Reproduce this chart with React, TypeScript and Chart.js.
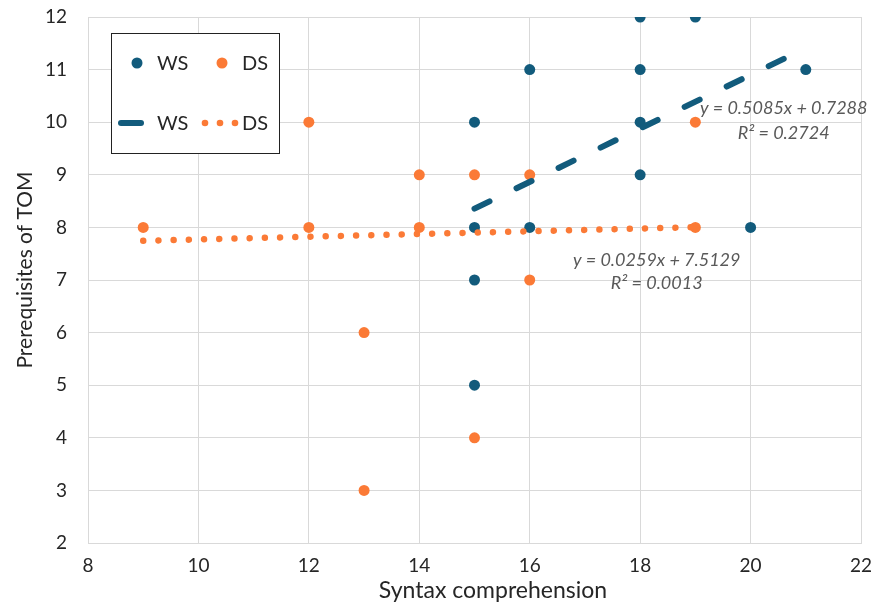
import React, { useEffect, useRef } from "react";
import { Chart, registerables } from "chart.js";

Chart.register(...registerables);

// ---- data ----
const seriesNames = ["WS", "DS"];
const wsX = [18, 19, 16, 18, 21, 15, 18, 18, 15, 16, 20, 15, 15];
const wsY = [12, 12, 11, 11, 11, 10, 10, 9, 8, 8, 8, 7, 5];
const dsX = [9, 12, 12, 13, 13, 14, 14, 15, 15, 16, 16, 19, 19];
const dsY = [8, 10, 8, 6, 3, 9, 8, 9, 4, 9, 7, 10, 8];
const wsTrendX = [15, 21];
const wsTrendY = [8.356, 11.407];
const dsTrendX = [9, 19];
const dsTrendY = [7.746, 8.005];
const wsEquation = ["y = 0.5085x + 0.7288", "R² = 0.2724"];
const dsEquation = ["y = 0.0259x + 7.5129", "R² = 0.0013"];
const xTitle = "Syntax comprehension";
const yTitle = "Prerequisites of TOM";
const xMin = 8, xMax = 22, xStep = 2;
const yMin = 2, yMax = 12, yStep = 1;

const TEAL = "#125b7c";
const ORANGE = "#fb7a36";
const GRID = "#d9d9d9";
const TEXT = "#262626";
const FONT = "Lato";

const zip = (xs: number[], ys: number[]) => xs.map((x, i) => ({ x, y: ys[i] }));

const overlay = {
  id: "overlay",
  afterDraw(chart: any) {
    const { ctx, scales } = chart;
    const xs = scales.x, ys = scales.y;
    ctx.save();

    // trendline equations
    ctx.font = `italic 18px ${FONT}`;
    ctx.fillStyle = "#595959";
    ctx.textAlign = "center";
    ctx.textBaseline = "middle";
    const wx = xs.getPixelForValue(20.6), wy = ys.getPixelForValue(10.27);
    ctx.fillText(wsEquation[0], wx, wy);
    ctx.fillText(wsEquation[1], wx, wy + 25);
    const dx = xs.getPixelForValue(18.3), dy = ys.getPixelForValue(7.38);
    ctx.fillText(dsEquation[0], dx, dy);
    ctx.fillText(dsEquation[1], dx, dy + 23);

    // legend
    const ds = chart.data.datasets;
    ctx.fillStyle = "#ffffff";
    ctx.fillRect(111.5, 33.5, 168, 120);
    ctx.strokeStyle = "#222";
    ctx.lineWidth = 1;
    ctx.strokeRect(111.5, 33.5, 168, 120);
    ctx.font = `20px ${FONT}`;
    ctx.textAlign = "left";
    const r1 = 63, r2 = 123;
    ctx.fillStyle = ds[2].backgroundColor;
    ctx.beginPath(); ctx.arc(137, r1, 5.5, 0, Math.PI * 2); ctx.fill();
    ctx.fillStyle = ds[3].backgroundColor;
    ctx.beginPath(); ctx.arc(222, r1, 5.5, 0, Math.PI * 2); ctx.fill();
    ctx.fillStyle = TEXT;
    ctx.fillText(ds[2].label, 157, r1 + 1);
    ctx.fillText(ds[3].label, 242, r1 + 1);
    ctx.strokeStyle = ds[0].borderColor;
    ctx.lineWidth = 6;
    ctx.lineCap = "round";
    ctx.beginPath(); ctx.moveTo(121, r2); ctx.lineTo(141, r2); ctx.stroke();
    ctx.fillStyle = ds[1].borderColor;
    [205, 220, 235].forEach((px) => {
      ctx.beginPath(); ctx.arc(px, r2, 3.3, 0, Math.PI * 2); ctx.fill();
    });
    ctx.fillStyle = TEXT;
    ctx.fillText(ds[0].label, 157, r2 + 1);
    ctx.fillText(ds[1].label, 242, r2 + 1);

    // axis titles
    ctx.fillStyle = TEXT;
    ctx.textAlign = "center";
    ctx.font = `23px ${FONT}`;
    ctx.fillText(xTitle, 493, 591);
    ctx.save();
    ctx.translate(25, 270);
    ctx.rotate(-Math.PI / 2);
    ctx.font = `21px ${FONT}`;
    ctx.fillText(yTitle, 0, 0);
    ctx.restore();

    ctx.restore();
  },
};

export default function App() {
  const ref = useRef<HTMLCanvasElement>(null);
  useEffect(() => {
    if (!ref.current) return;
    const chart = new Chart(ref.current, {
      type: "scatter",
      data: {
        datasets: [
          {
            label: seriesNames[0],
            data: zip(wsTrendX, wsTrendY),
            showLine: true,
            borderColor: TEAL,
            backgroundColor: TEAL,
            borderWidth: 6,
            borderDash: [16.7, 30],
            borderCapStyle: "round",
            pointRadius: 0,
            order: 0,
          },
          {
            label: seriesNames[1],
            data: zip(dsTrendX, dsTrendY),
            showLine: true,
            borderColor: ORANGE,
            backgroundColor: ORANGE,
            borderWidth: 6.5,
            borderDash: [0.01, 15.2],
            borderCapStyle: "round",
            pointRadius: 0,
            order: 0,
          },
          {
            label: seriesNames[0],
            data: zip(wsX, wsY),
            backgroundColor: TEAL,
            borderWidth: 0,
            pointRadius: 5.5,
            order: 1,
          },
          {
            label: seriesNames[1],
            data: zip(dsX, dsY),
            backgroundColor: ORANGE,
            borderWidth: 0,
            pointRadius: 5.5,
            order: 2,
          },
        ],
      } as any,
      options: {
        animation: false,
        responsive: false,
        layout: { padding: { left: 0, top: 17, right: 11, bottom: 0 } },
        plugins: { legend: { display: false }, tooltip: { enabled: false } },
        scales: {
          x: {
            type: "linear",
            min: xMin,
            max: xMax,
            ticks: { stepSize: xStep, color: TEXT, font: { family: FONT, size: 19 }, padding: 11 },
            grid: { color: GRID, drawTicks: false },
            border: { color: GRID },
            afterFit: (s: any) => {
              s.height = 63;
              s.paddingLeft = 0;
              s.paddingRight = 0;
            },
          },
          y: {
            type: "linear",
            min: yMin,
            max: yMax,
            ticks: { stepSize: yStep, color: TEXT, font: { family: FONT, size: 19 }, padding: 21 },
            grid: { color: GRID, drawTicks: false },
            border: { color: GRID },
            afterFit: (s: any) => {
              s.width = 88;
              s.paddingTop = 0;
              s.paddingBottom = 0;
            },
          },
        },
      } as any,
      plugins: [overlay],
    });
    return () => chart.destroy();
  }, []);
  return (
    <div style={{ position: "fixed", left: 0, top: 0, width: 872, height: 606, background: "#fff" }}>
      <canvas ref={ref} width={872} height={606} style={{ display: "block" }} />
    </div>
  );
}
